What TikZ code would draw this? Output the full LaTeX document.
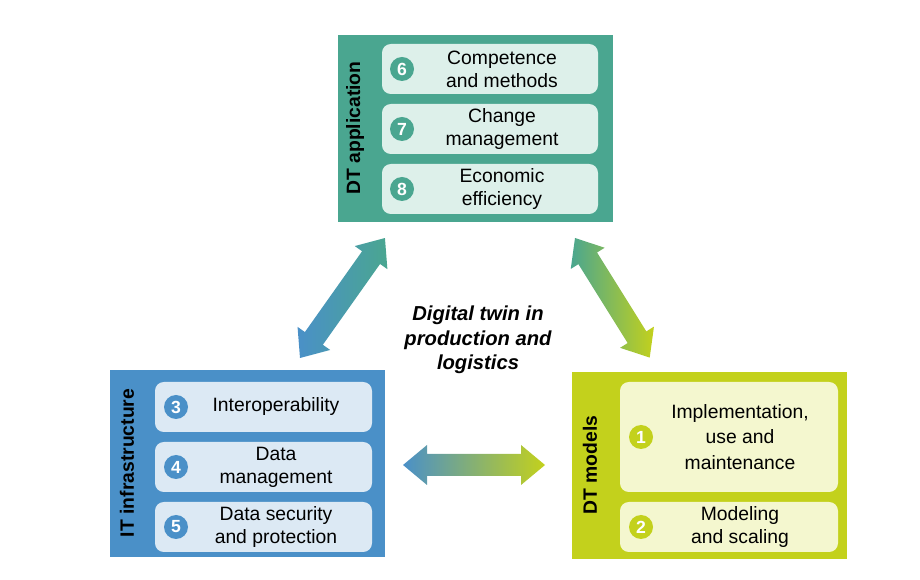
\documentclass[tikz,border=0pt]{standalone}
\usepackage{fontspec}
\setmainfont{Liberation Sans}
\usetikzlibrary{positioning}
\definecolor{teal}{HTML}{4AA690}
\definecolor{tealL}{HTML}{DDF0EA}
\definecolor{blu}{HTML}{4A90C8}
\definecolor{bluL}{HTML}{DCE9F4}
\definecolor{yel}{HTML}{C3D11C}
\definecolor{yelL}{HTML}{F4F7CF}
\begin{document}
\begin{tikzpicture}
      [x=0.02cm,y=-0.02cm,
      group/.style={rectangle,minimum width=275*0.02cm,minimum height=187*0.02cm,anchor=north west},
      txt/.style={align=center,font=\fontsize{11}{13}\selectfont},
      num/.style={circle,inner sep=0pt,minimum size=24*0.02cm,text=white,font=\bfseries\fontsize{10}{12}\selectfont},
      side/.style={rotate=90,font=\bfseries\fontsize{11}{13}\selectfont},
      ]
      \useasboundingbox (0,0) rectangle (920,580);

      % groups
      \node[group,fill=teal] (app) at (338,35){};
      \node[group,fill=blu] (infra) at (110,370){};
      \node[group,fill=yel] (models) at (572,372){};
      \node[side] (appL) at (355,128){DT application};
      \node[side] (infraL) at (127,463){IT infrastructure};
      \node[side] (modelsL) at (590,465){DT models};

      % items
      \foreach \n/\y/\t in {6/44/{Competence\\and methods},7/104/{Change\\management},8/164/{Economic\\efficiency}}{
        \draw[fill=tealL,draw=none,rounded corners=5pt] (382,\y) rectangle (598,\y+50);
        \node[num,fill=teal] (n\n) at (402,\y+25){\n};
        \node[txt] (t\n) at (502,\y+25){\t};
      }
      \foreach \n/\y/\t in {3/382/{Interoperability},4/442/{Data\\management},5/502/{Data security\\and protection}}{
        \draw[fill=bluL,draw=none,rounded corners=5pt] (155,\y) rectangle (372,\y+50);
        \node[num,fill=blu] (n\n) at (176,\y+25){\n};
        \node[txt] (t\n) at (276,\y+25){\t};
      }
      \draw[fill=yelL,draw=none,rounded corners=5pt] (620,382) rectangle (838,492);
      \node[num,fill=yel] (n1) at (641,437){1};
      \node[txt,font=\fontsize{11}{14.5}\selectfont] (t1) at (740,437){Implementation,\\use and\\maintenance};
      \draw[fill=yelL,draw=none,rounded corners=5pt] (620,502) rectangle (838,552);
      \node[num,fill=yel] (n2) at (641,527){2};
      \node[txt] (t2) at (740,527){Modeling\\and scaling};

      % centre
      \node[font=\bfseries\itshape\fontsize{11.5}{14}\selectfont,align=center] (dt) at (478,340)
        {Digital twin in\\production and\\logistics};

      % double arrows
      \foreach \px/\py/\ang/\len/\ca/\cb in {300/358/54.7/147/blu/teal, 575/238/-58/141/teal/yel, 403/465/0/142/blu/yel}{
        \begin{scope}[shift={(\px,\py)},rotate=\ang]
          \shade[left color=\ca,right color=\cb]
            (0,0) -- (24,-20) -- (24,-11) -- (\len-24,-11) -- (\len-24,-20) -- (\len,0)
            -- (\len-24,20) -- (\len-24,11) -- (24,11) -- (24,20) -- cycle;
        \end{scope}
      }
\end{tikzpicture}
\end{document}
